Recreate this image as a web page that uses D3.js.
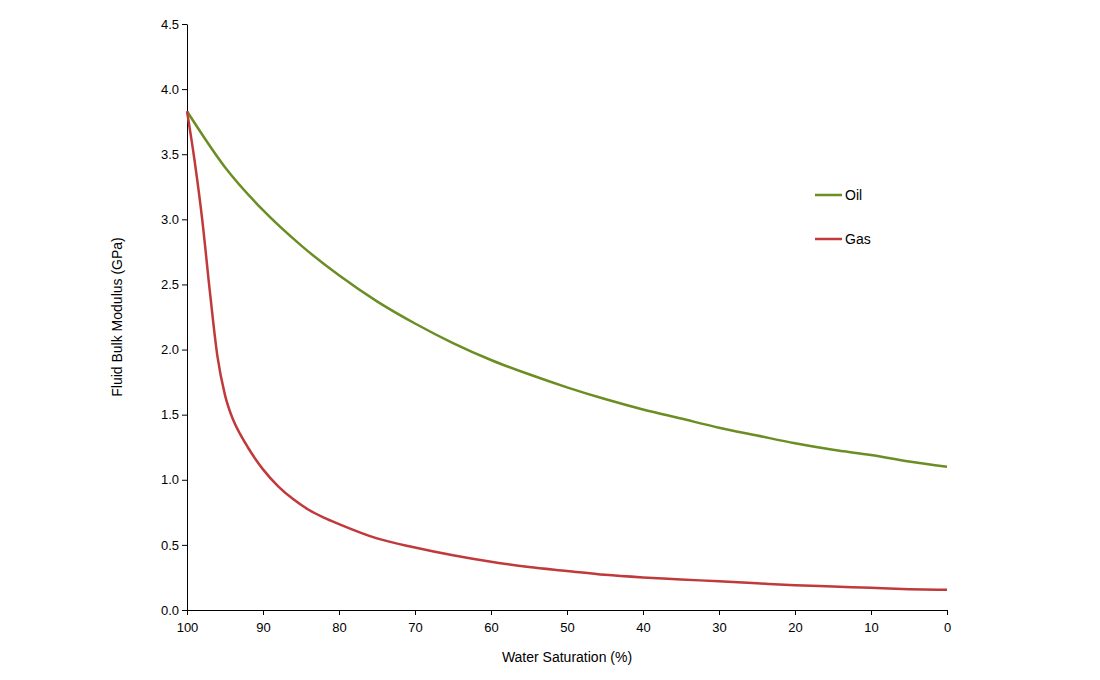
<!DOCTYPE html>
<html><head><meta charset="utf-8">
<script src="https://cdn.jsdelivr.net/npm/d3@7"></script>
<style>body{margin:0;background:#fff;font-family:"Liberation Sans",Arial,sans-serif;}</style>
</head><body>
<script>
// water saturation (%) and modulus (GPa)
var oilSw = [100,95,90,85,80,75,70,65,60,55,50,45,40,35,30,25,20,15,10,5,0];
var oilK  = [3.83,3.40,3.07,2.80,2.57,2.37,2.20,2.05,1.92,1.81,1.71,1.62,1.54,1.47,1.40,1.34,1.28,1.23,1.19,1.14,1.10];
var gasSw = [100,99,98,97,96,95,94,93,92,91,90,88,86,84,82,80,75,70,65,60,55,50,45,40,35,30,25,20,15,10,5,0];
var gasK  = [3.83,3.45,3.0,2.45,1.95,1.65,1.47,1.35,1.25,1.16,1.08,0.95,0.85,0.77,0.71,0.66,0.55,0.48,0.42,0.37,0.33,0.30,0.27,0.25,0.235,0.22,0.205,0.19,0.18,0.17,0.16,0.155];
var xTicks = [100,90,80,70,60,50,40,30,20,10,0];
var yTicks = [0,0.5,1,1.5,2,2.5,3,3.5,4,4.5];

var w = 1100, h = 680;
var svg = d3.select("body").append("svg").attr("width", w).attr("height", h);
var x = d3.scaleLinear().domain([100, 0]).range([187, 947]);
var y = d3.scaleLinear().domain([0, 4.5]).range([610, 24]);

var xAxis = svg.append("g").attr("transform", "translate(0,610)")
  .call(d3.axisBottom(x).tickValues(xTicks).tickSize(5).tickSizeOuter(0).tickFormat(d3.format("d")));
var yAxis = svg.append("g").attr("transform", "translate(187,0)")
  .call(d3.axisLeft(y).tickValues(yTicks).tickSize(5).tickSizeOuter(0).tickFormat(d3.format(".1f")));
[xAxis, yAxis].forEach(function (a) {
  a.selectAll("path,line").attr("stroke", "#000");
  a.selectAll("text").attr("font-size", 13).attr("font-family", "Liberation Sans, Arial, sans-serif").attr("fill", "#000");
});
xAxis.selectAll("text").attr("dy", "1.1em");

svg.append("text").attr("x", 567).attr("y", 662).attr("text-anchor", "middle")
  .attr("font-size", 14).text("Water Saturation (%)");
svg.append("text").attr("transform", "translate(122,317) rotate(-90)").attr("text-anchor", "middle")
  .attr("font-size", 14).text("Fluid Bulk Modulus (GPa)");

var line = d3.line().curve(d3.curveMonotoneX)
  .x(function (d) { return x(d[0]); }).y(function (d) { return y(d[1]); });
var series = [
  { name: "Oil", color: "#6b8e23", pts: d3.zip(oilSw, oilK), ly: 195 },
  { name: "Gas", color: "#c0393b", pts: d3.zip(gasSw, gasK), ly: 239 }
];
series.forEach(function (s) {
  svg.append("path").attr("d", line(s.pts)).attr("fill", "none")
    .attr("stroke", s.color).attr("stroke-width", 2.5);
  svg.append("line").attr("x1", 815).attr("x2", 842).attr("y1", s.ly).attr("y2", s.ly)
    .attr("stroke", s.color).attr("stroke-width", 2.5);
  svg.append("text").attr("x", 845).attr("y", s.ly + 5).attr("font-size", 14).text(s.name);
});
</script>
</body></html>
